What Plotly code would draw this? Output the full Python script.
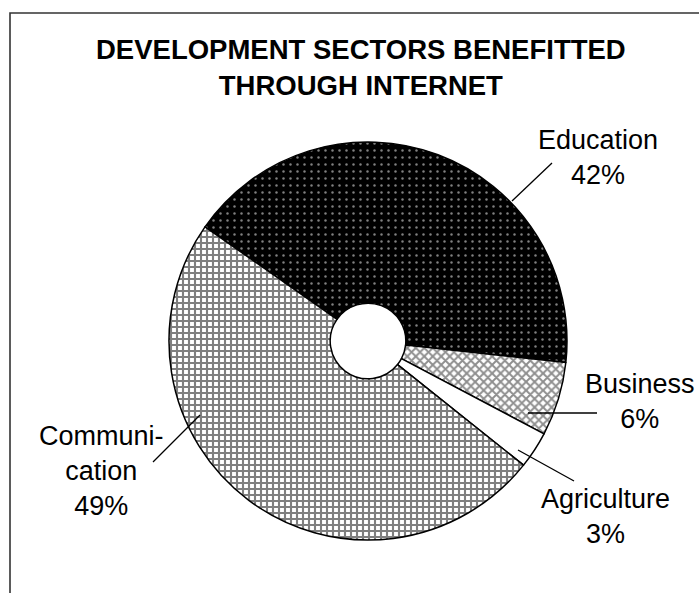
import plotly.graph_objects as go

# Share of development sectors that benefitted through the internet (%)
sectors = ["Education", "Business", "Agriculture", "Communication"]
shares = [42, 6, 3, 49]
label_text = ["Education", "Business", "Agriculture", "Communi-<br>cation"]

W, H = 699, 593


def px(x):
    return x / W


def py(y):
    return 1 - y / H


fig = go.Figure()

fig.add_trace(go.Pie(
    labels=sectors,
    values=shares,
    sort=False,
    direction="clockwise",
    rotation=-55,
    hole=0.19,
    textinfo="none",
    hoverinfo="label+percent",
    showlegend=False,
    domain=dict(x=[px(169), px(567)], y=[py(540), py(142)]),
    marker=dict(
        colors=["black", "white", "white", "white"],
        line=dict(color="black", width=1.5),
        pattern=dict(
            shape=[".", "x", "", "+"],
            bgcolor=["black", "white", "white", "white"],
            fgcolor=["white", "#1e1e1e", "white", "black"],
            size=[7, 6, 6, 6],
            solidity=[0.1, 0.55, 0.1, 0.58],
            fillmode="overlay",
        ),
    ),
))

# Labels with value, placed outside the pie
label_pos = {
    "Education": (598, 157),
    "Business": (640, 401),
    "Agriculture": (605, 516),
    "Communication": (101, 471),
}
# Leader lines: (start inside slice) -> (end near label)
leaders = {
    "Education": ((512, 201), (552, 163)),
    "Business": ((528, 413), (597, 413)),
    "Agriculture": ((518, 450), (574, 481)),
    "Communication": ((200, 415), (153, 462)),
}

total = sum(shares)
annotations = []
for name, txt, v in zip(sectors, label_text, shares):
    x, y = label_pos[name]
    annotations.append(dict(
        x=px(x), y=py(y), xref="paper", yref="paper",
        text=f"{txt}<br>{round(100 * v / total)}%",
        showarrow=False, xanchor="center", yanchor="middle",
        align="center",
        font=dict(family="Liberation Sans, Arial, sans-serif", size=27, color="black"),
    ))

annotations.append(dict(
    x=px(361), y=py(32), xref="paper", yref="paper",
    text="<b>DEVELOPMENT SECTORS BENEFITTED<br>THROUGH INTERNET</b>",
    showarrow=False, xanchor="center", yanchor="top", align="center",
    font=dict(family="Liberation Sans, Arial, sans-serif", size=27.5, color="black"),
))

shapes = [dict(
    type="rect", xref="paper", yref="paper",
    x0=px(10), y0=py(13), x1=px(720), y1=py(620),
    line=dict(color="#333333", width=1.6), fillcolor="rgba(0,0,0,0)",
)]
for name, ((x0, y0), (x1, y1)) in leaders.items():
    shapes.append(dict(
        type="line", xref="paper", yref="paper",
        x0=px(x0), y0=py(y0), x1=px(x1), y1=py(y1),
        line=dict(color="black", width=1.3),
    ))

fig.update_layout(
    width=W, height=H,
    margin=dict(l=0, r=0, t=0, b=0),
    paper_bgcolor="white",
    plot_bgcolor="white",
    annotations=annotations,
    shapes=shapes,
)

fig.write_html("out.html")
